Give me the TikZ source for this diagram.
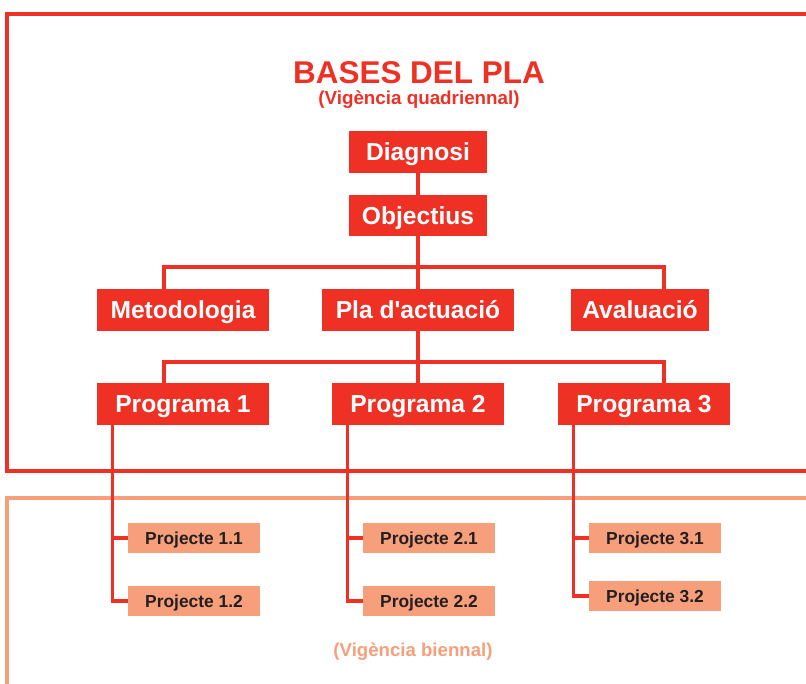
\documentclass[tikz,border=0pt]{standalone}
\usepackage{fontspec}
\setmainfont{Liberation Sans}
\usepackage{xcolor}
\usetikzlibrary{positioning,calc}

\definecolor{plared}{RGB}{238,49,36}
\definecolor{plasalmon}{RGB}{247,159,123}
\definecolor{platext}{RGB}{35,31,32}

\tikzset{
    mainbox/.style={fill=plared, text=white, font=\fontsize{14}{16}\selectfont\bfseries, inner sep=0pt, minimum height=0.84cm, text height=10.1pt, text depth=0pt},
    projbox/.style={fill=plasalmon, text=platext, font=\fontsize{9.9}{12}\selectfont\bfseries, inner sep=0pt, minimum width=2.64cm, minimum height=0.6cm, text height=7.1pt, text depth=0pt},
    link/.style={plared, line width=1.8pt}
}

\begin{document}
\begin{tikzpicture}[x=0.02cm, y=-0.02cm]
    \clip (0,0) rectangle (806,684);

    % Frames
    \draw[plared, line width=2pt] (7,14) rectangle (900,471); % Vigencia quadriennal
    \draw[plasalmon, line width=1.8pt] (7,498) rectangle (900,800); % Vigencia biennal

    % Titles
    \node[plared, font=\fontsize{17.9}{20}\selectfont\bfseries] (title) at (419,73) {BASES DEL PLA};
    \node[plared, font=\fontsize{10.7}{12}\selectfont\bfseries] (quad) at (419,100) {(Vigència quadriennal)};
    \node[plasalmon, font=\fontsize{10.6}{12}\selectfont\bfseries] (bien) at (413,652) {(Vigència biennal)};

    % Bases
    \node[mainbox, minimum width=2.76cm] (diag) at (418,152) {Diagnosi};
    \node[mainbox, minimum width=2.76cm, minimum height=0.82cm] (obj) at (418,215.5) {Objectius};
    \node[mainbox, minimum width=3.46cm] (met) at (183,310) {Metodologia};
    \node[mainbox, minimum width=3.84cm] (pla) at (418,310) {Pla d\textquotesingle actuació};
    \node[mainbox, minimum width=2.78cm] (aval) at (640,310) {Avaluació};

    % Programes
    \node[mainbox, minimum width=3.44cm] (prog1) at (183,404) {Programa 1};
    \node[mainbox, minimum width=3.44cm] (prog2) at (418,404) {Programa 2};
    \node[mainbox, minimum width=3.44cm] (prog3) at (644,404) {Programa 3};

    % Projectes
    \node[projbox] (p11) at (194,538) {Projecte 1.1};
    \node[projbox] (p12) at (194,601) {Projecte 1.2};
    \node[projbox] (p21) at (429,538) {Projecte 2.1};
    \node[projbox] (p22) at (429,601) {Projecte 2.2};
    \node[projbox] (p31) at (655,538) {Projecte 3.1};
    \node[projbox] (p32) at (655,596) {Projecte 3.2};

    % Links
    \coordinate (barA) at (164,267);
    \coordinate (barB) at (664,362);
    \draw[link] (diag) -- (obj);
    \draw[link] (obj) -- (pla);
    \draw[link] (barA |- met.north) |- (obj.south |- barA) -| (barB |- aval.north);
    \draw[link] (pla) -- (prog2);
    \draw[link] (barA |- prog1.north) |- (barB) -- (barB |- prog3.north);

    \draw[link] ($(prog1.south west)+(16,0)$) |- (p12.west);
    \draw[link] (p11.west) -- ++(-15,0);
    \draw[link] ($(prog2.south west)+(16,0)$) |- (p22.west);
    \draw[link] (p21.west) -- ++(-15,0);
    \draw[link] ($(prog3.south west)+(16,0)$) |- (p32.west);
    \draw[link] (p31.west) -- ++(-15,0);
\end{tikzpicture}
\end{document}
